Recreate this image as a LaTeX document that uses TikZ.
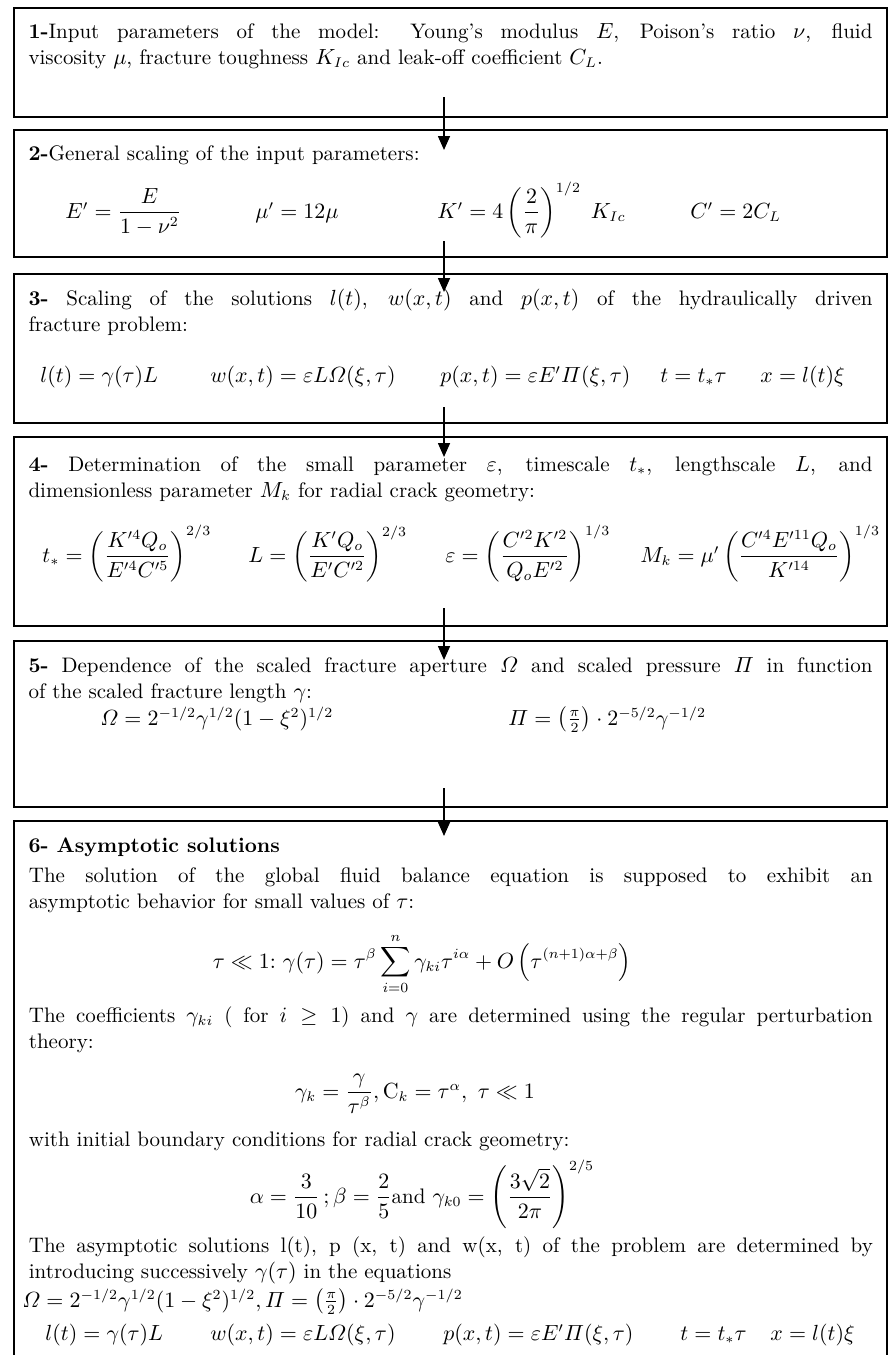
\documentclass[tikz,border=0pt]{standalone}
\usepackage{amsmath}
\usepackage{amssymb}
\usepackage{tikz}
\usetikzlibrary{positioning, arrows.meta}

\begin{document}
\begin{tikzpicture}[
    x=0.5pt, y=-0.5pt,
    font=\fontsize{10.5}{13}\selectfont,
    >={Triangle[length=7pt, width=6pt]},
    step_box/.style={draw, line width=1.1pt, outer sep=0pt, text width=422pt, align=justify, inner xsep=7.25pt, inner ysep=0pt},
    para/.style={anchor=base west, text width=422pt, align=justify, inner sep=0pt},
    eq/.style={anchor=base west, inner sep=0pt},
    eq_mid/.style={anchor=base, inner sep=0pt},
    arrow/.style={->, line width=0.8pt}
]
\clip (0,0) rectangle (888,1355);
\fill[white] (0,0) rectangle (888,1355);

% Step boxes, top to bottom
\node[step_box, anchor=north west, text height=15pt, text depth=39.5pt] (s1) at (14,8) {\textbf{1-}Input parameters of the model: Young's modulus $E$, Poison's ratio $\nu$, fluid\linebreak viscosity $\mu$, fracture toughness $K_{Ic}$ and leak-off coefficient $C_L$.};
\node[step_box, below=6.5pt of s1, text height=15pt, text depth=48.5pt] (s2) {\textbf{2-}General scaling of the input parameters:};
\node[step_box, below=8.5pt of s2, text height=15.5pt, text depth=59pt] (s3) {\textbf{3-} Scaling of the solutions $l(t)$, $w(x,t)$ and $p(x,t)$ of the hydraulically driven\linebreak fracture problem:};
\node[step_box, below=7pt of s3, text height=17pt, text depth=77.5pt] (s4) {\textbf{4-} Determination of the small parameter $\varepsilon$, timescale $t_*$, lengthscale $L$, and\linebreak dimensionless parameter $M_k$ for radial crack geometry:};
\node[step_box, below=7.5pt of s4, text height=15.5pt, text depth=67.5pt] (s5) {\textbf{5-} Dependence of the scaled fracture aperture $\varOmega$ and scaled pressure $\varPi$ in function\linebreak of the scaled fracture length $\gamma$:};
\node[step_box, below=7pt of s5, text height=15.5pt, text depth=265pt] (s6) {\textbf{6- Asymptotic solutions}};

% Box 2: general scaling
\node[eq] (e2a) at (65,218) {$E' = \dfrac{E}{1-\nu^2}$};
\node[eq] (e2b) at (255,218) {$\mu' = 12\mu$};
\node[eq] (e2c) at (437,218) {$K' = 4\left(\dfrac{2}{\pi}\right)^{1/2}\; K_{Ic}$};
\node[eq] (e2d) at (690,218) {$C' = 2C_L$};

% Box 3: scaling of the solutions
\node[eq] (e3a) at (40,382) {$l(t) = \gamma(\tau)L$};
\node[eq] (e3b) at (210,382) {$w(x,t) = \varepsilon L\varOmega(\xi,\tau)$};
\node[eq] (e3c) at (440,382) {$p(x,t) = \varepsilon E'\varPi(\xi,\tau)$};
\node[eq] (e3d) at (660,382) {$t = t_*\tau$};
\node[eq] (e3e) at (760,382) {$x = l(t)\xi$};

% Box 4: scales and M_k
\node[eq] (e4a) at (42,562) {$t_* = \left(\dfrac{K'^4 Q_o}{E'^4 C'^5}\right)^{2/3}$};
\node[eq] (e4b) at (248,562) {$L = \left(\dfrac{K' Q_o}{E' C'^2}\right)^{2/3}$};
\node[eq] (e4c) at (445,562) {$\varepsilon = \left(\dfrac{C'^2 K'^2}{Q_o E'^2}\right)^{1/3}$};
\node[eq] (e4d) at (640,562) {$M_k = \mu'\left(\dfrac{C'^4 E'^{11} Q_o}{K'^{14}}\right)^{1/3}$};

% Box 5: aperture and pressure
\node[eq] (e5a) at (100,725) {$\varOmega = 2^{-1/2}\gamma^{1/2}(1-\xi^2)^{1/2}$};
\node[eq] (e5b) at (508,725) {$\varPi = \left(\frac{\pi}{2}\right)\cdot 2^{-5/2}\gamma^{-1/2}$};

% Box 6: asymptotic solutions
\node[para] (p6a) at (28.5,882) {The solution of the global fluid balance equation is supposed to exhibit an\linebreak asymptotic behavior for small values of $\tau$:};
\node[eq_mid] (e6a) at (422,968) {$\displaystyle \tau \ll 1{:}\ \gamma(\tau) = \tau^{\beta}\sum_{i=0}^{n} \gamma_{ki}\tau^{i\alpha} + O\left(\tau^{(n+1)\alpha+\beta}\right)$};
\node[para] (p6b) at (28.5,1022) {The coefficients $\gamma_{ki}$ ( for $i \geq 1$) and $\gamma$ are determined using the regular perturbation\linebreak theory:};
\node[eq_mid] (e6b) at (415,1098) {$\gamma_k = \dfrac{\gamma}{\tau^{\beta}}, \mathrm{C}_k = \tau^{\alpha},\ \tau \ll 1$};
\node[para] (p6c) at (28.5,1146) {with initial boundary conditions for radial crack geometry:};
\node[eq_mid] (e6c) at (422,1203) {$\alpha = \dfrac{3}{10}\,;\beta = \dfrac{2}{5}$and $\gamma_{k0} = \left(\dfrac{3\sqrt{2}}{2\pi}\right)^{2/5}$};
\node[para] (p6d) at (28.5,1252) {The asymptotic solutions l(t), p (x, t) and w(x, t) of the problem are determined by\linebreak introducing successively $\gamma(\tau)$ in the equations};
\node[eq] (e6d) at (22,1307) {$\varOmega = 2^{-1/2}\gamma^{1/2}(1-\xi^2)^{1/2}, \varPi = \left(\frac{\pi}{2}\right)\cdot 2^{-5/2}\gamma^{-1/2}$};
\node[eq] (e6e) at (45,1340) {$l(t) = \gamma(\tau)L$};
\node[eq] (e6f) at (210,1340) {$w(x,t) = \varepsilon L\varOmega(\xi,\tau)$};
\node[eq] (e6g) at (443,1340) {$p(x,t) = \varepsilon E'\varPi(\xi,\tau)$};
\node[eq] (e6h) at (680,1340) {$t = t_*\tau$};
\node[eq] (e6i) at (770,1340) {$x = l(t)\xi$};

% Flow between steps
\draw[arrow] ([xshift=-3.25pt, yshift=10pt]s1.south) -- ([xshift=-3.25pt, yshift=-10pt]s2.north);
\draw[arrow] ([xshift=-3.25pt, yshift=8pt]s2.south) -- ([xshift=-3.25pt, yshift=-9pt]s3.north);
\draw[arrow] ([xshift=-3.25pt, yshift=8pt]s3.south) -- ([xshift=-3.25pt, yshift=-10pt]s4.north);
\draw[arrow] ([xshift=-3.25pt, yshift=9pt]s4.south) -- ([xshift=-3.25pt, yshift=-9.5pt]s5.north);
\draw[arrow] ([xshift=-3.25pt, yshift=9.5pt]s5.south) -- ([xshift=-3.25pt, yshift=-7.5pt]s6.north);

\end{tikzpicture}
\end{document}
